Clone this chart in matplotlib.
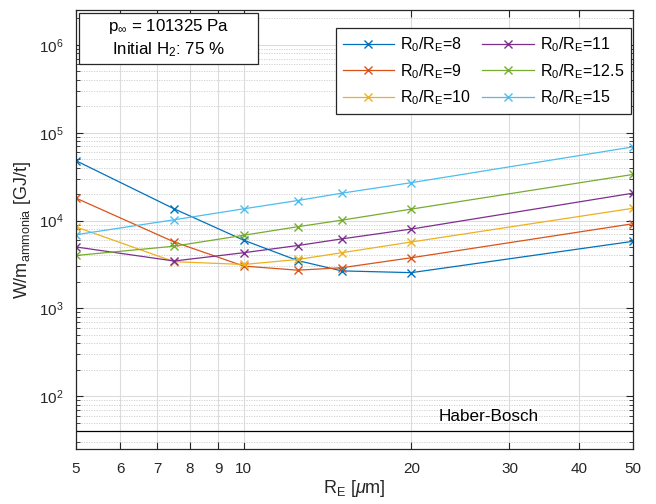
import matplotlib
matplotlib.use('Agg')
import matplotlib.pyplot as plt
from matplotlib.patches import Rectangle
from matplotlib.ticker import FixedLocator, NullLocator, LogLocator, NullFormatter

plt.rcParams['font.family'] = ['Liberation Sans', 'DejaVu Sans']
plt.rcParams['mathtext.fontset'] = 'custom'
plt.rcParams['mathtext.rm'] = 'Liberation Sans'
plt.rcParams['mathtext.it'] = 'Liberation Sans:italic'
plt.rcParams['mathtext.bf'] = 'Liberation Sans:bold'

# electrode radius [um]
r_e = [5, 7.5, 10, 12.5, 15, 20, 50]

# specific energy W/m_ammonia [GJ/t] per R0/RE ratio
w_8 = [4.8e4, 1.36e4, 5.97e3, 3.5e3, 2.67e3, 2.55e3, 5.8e3]
w_9 = [1.8e4, 5.7e3, 3.03e3, 2.72e3, 2.9e3, 3.77e3, 9.2e3]
w_10 = [8.45e3, 3.4e3, 3.16e3, 3.6e3, 4.3e3, 5.7e3, 1.38e4]
w_11 = [5.0e3, 3.46e3, 4.3e3, 5.19e3, 6.18e3, 8.0e3, 2.05e4]
w_12_5 = [4.0e3, 5.1e3, 6.8e3, 8.5e3, 1.01e4, 1.35e4, 3.35e4]
w_15 = [6.9e3, 1.02e4, 1.36e4, 1.69e4, 2.05e4, 2.7e4, 6.9e4]

ratios = ['8', '9', '10', '11', '12.5', '15']
series = [w_8, w_9, w_10, w_11, w_12_5, w_15]
colors = [(0, 0.447, 0.741), (0.85, 0.325, 0.098), (0.929, 0.694, 0.125),
          (0.494, 0.184, 0.556), (0.466, 0.674, 0.188), (0.301, 0.745, 0.933)]

haber_bosch = 40
x_ticks = [5, 6, 7, 8, 9, 10, 20, 30, 40, 50]

fig = plt.figure(figsize=(6.56, 5.04), dpi=100)
ax = fig.add_axes([0.1159, 0.1091, 0.8491, 0.8711])

for vals, ratio, c in zip(series, ratios, colors):
    ax.plot(r_e, vals, color=c, marker='x', markersize=6, linewidth=0.9,
            label=f'R$_0$/R$_\\mathrm{{E}}$={ratio}')

ax.axhline(haber_bosch, color='black', linewidth=0.9)
ax.text(27.5, 59, 'Haber-Bosch', ha='center', va='center', fontsize=12.3)

ax.set_xscale('log')
ax.set_yscale('log')
ax.set_xlim(5, 50)
ax.set_ylim(25, 2.5e6)

ax.xaxis.set_major_locator(FixedLocator(x_ticks))
ax.set_xticklabels([str(t) for t in x_ticks])
ax.xaxis.set_minor_locator(NullLocator())
ax.yaxis.set_major_locator(LogLocator(base=10, numticks=10))
ax.yaxis.set_minor_locator(LogLocator(base=10, subs=range(2, 10), numticks=20))
ax.yaxis.set_minor_formatter(NullFormatter())

ax.grid(True, which='major', color='#dcdcdc', linewidth=0.8, linestyle='-')
ax.grid(True, which='minor', axis='y', color='#cccccc', linewidth=0.6, linestyle=(0, (1.5, 1.5)))
ax.set_axisbelow(True)

ax.tick_params(which='both', direction='in', top=True, right=True, colors='#262626',
               labelsize=11, pad=9)
ax.tick_params(which='major', length=5)
ax.tick_params(which='minor', length=3)
for s in ax.spines.values():
    s.set_color('#262626')
    s.set_linewidth(0.9)

ax.set_xlabel('R$_\\mathrm{E}$ [$\\mu$m]', fontsize=13, color='#262626', labelpad=2)
ax.set_ylabel('W/m$_{\\mathrm{ammonia}}$ [GJ/t]', fontsize=13, color='#262626', labelpad=4)

# annotation box, upper left
ax.add_patch(Rectangle((0.0054, 0.877), 0.3214, 0.1162, transform=ax.transAxes,
                       facecolor='white', edgecolor='#262626', linewidth=0.9, zorder=5))
ax.text(0.166, 0.936, 'p$_\\infty$ = 101325 Pa\nInitial H$_2$: 75 %',
        transform=ax.transAxes, ha='center', va='center', fontsize=12.2,
        linespacing=1.35, zorder=6)

leg = ax.legend(ncol=2, loc='upper right', bbox_to_anchor=(0.997, 0.959),
                borderaxespad=0, fontsize=11.5, frameon=True, fancybox=False,
                framealpha=1, edgecolor='#262626', handlelength=3.2,
                columnspacing=0.7, handletextpad=0.4, borderpad=0.45,
                labelspacing=0.5)
leg.get_frame().set_linewidth(0.9)

fig.savefig('out.png', dpi=100)
